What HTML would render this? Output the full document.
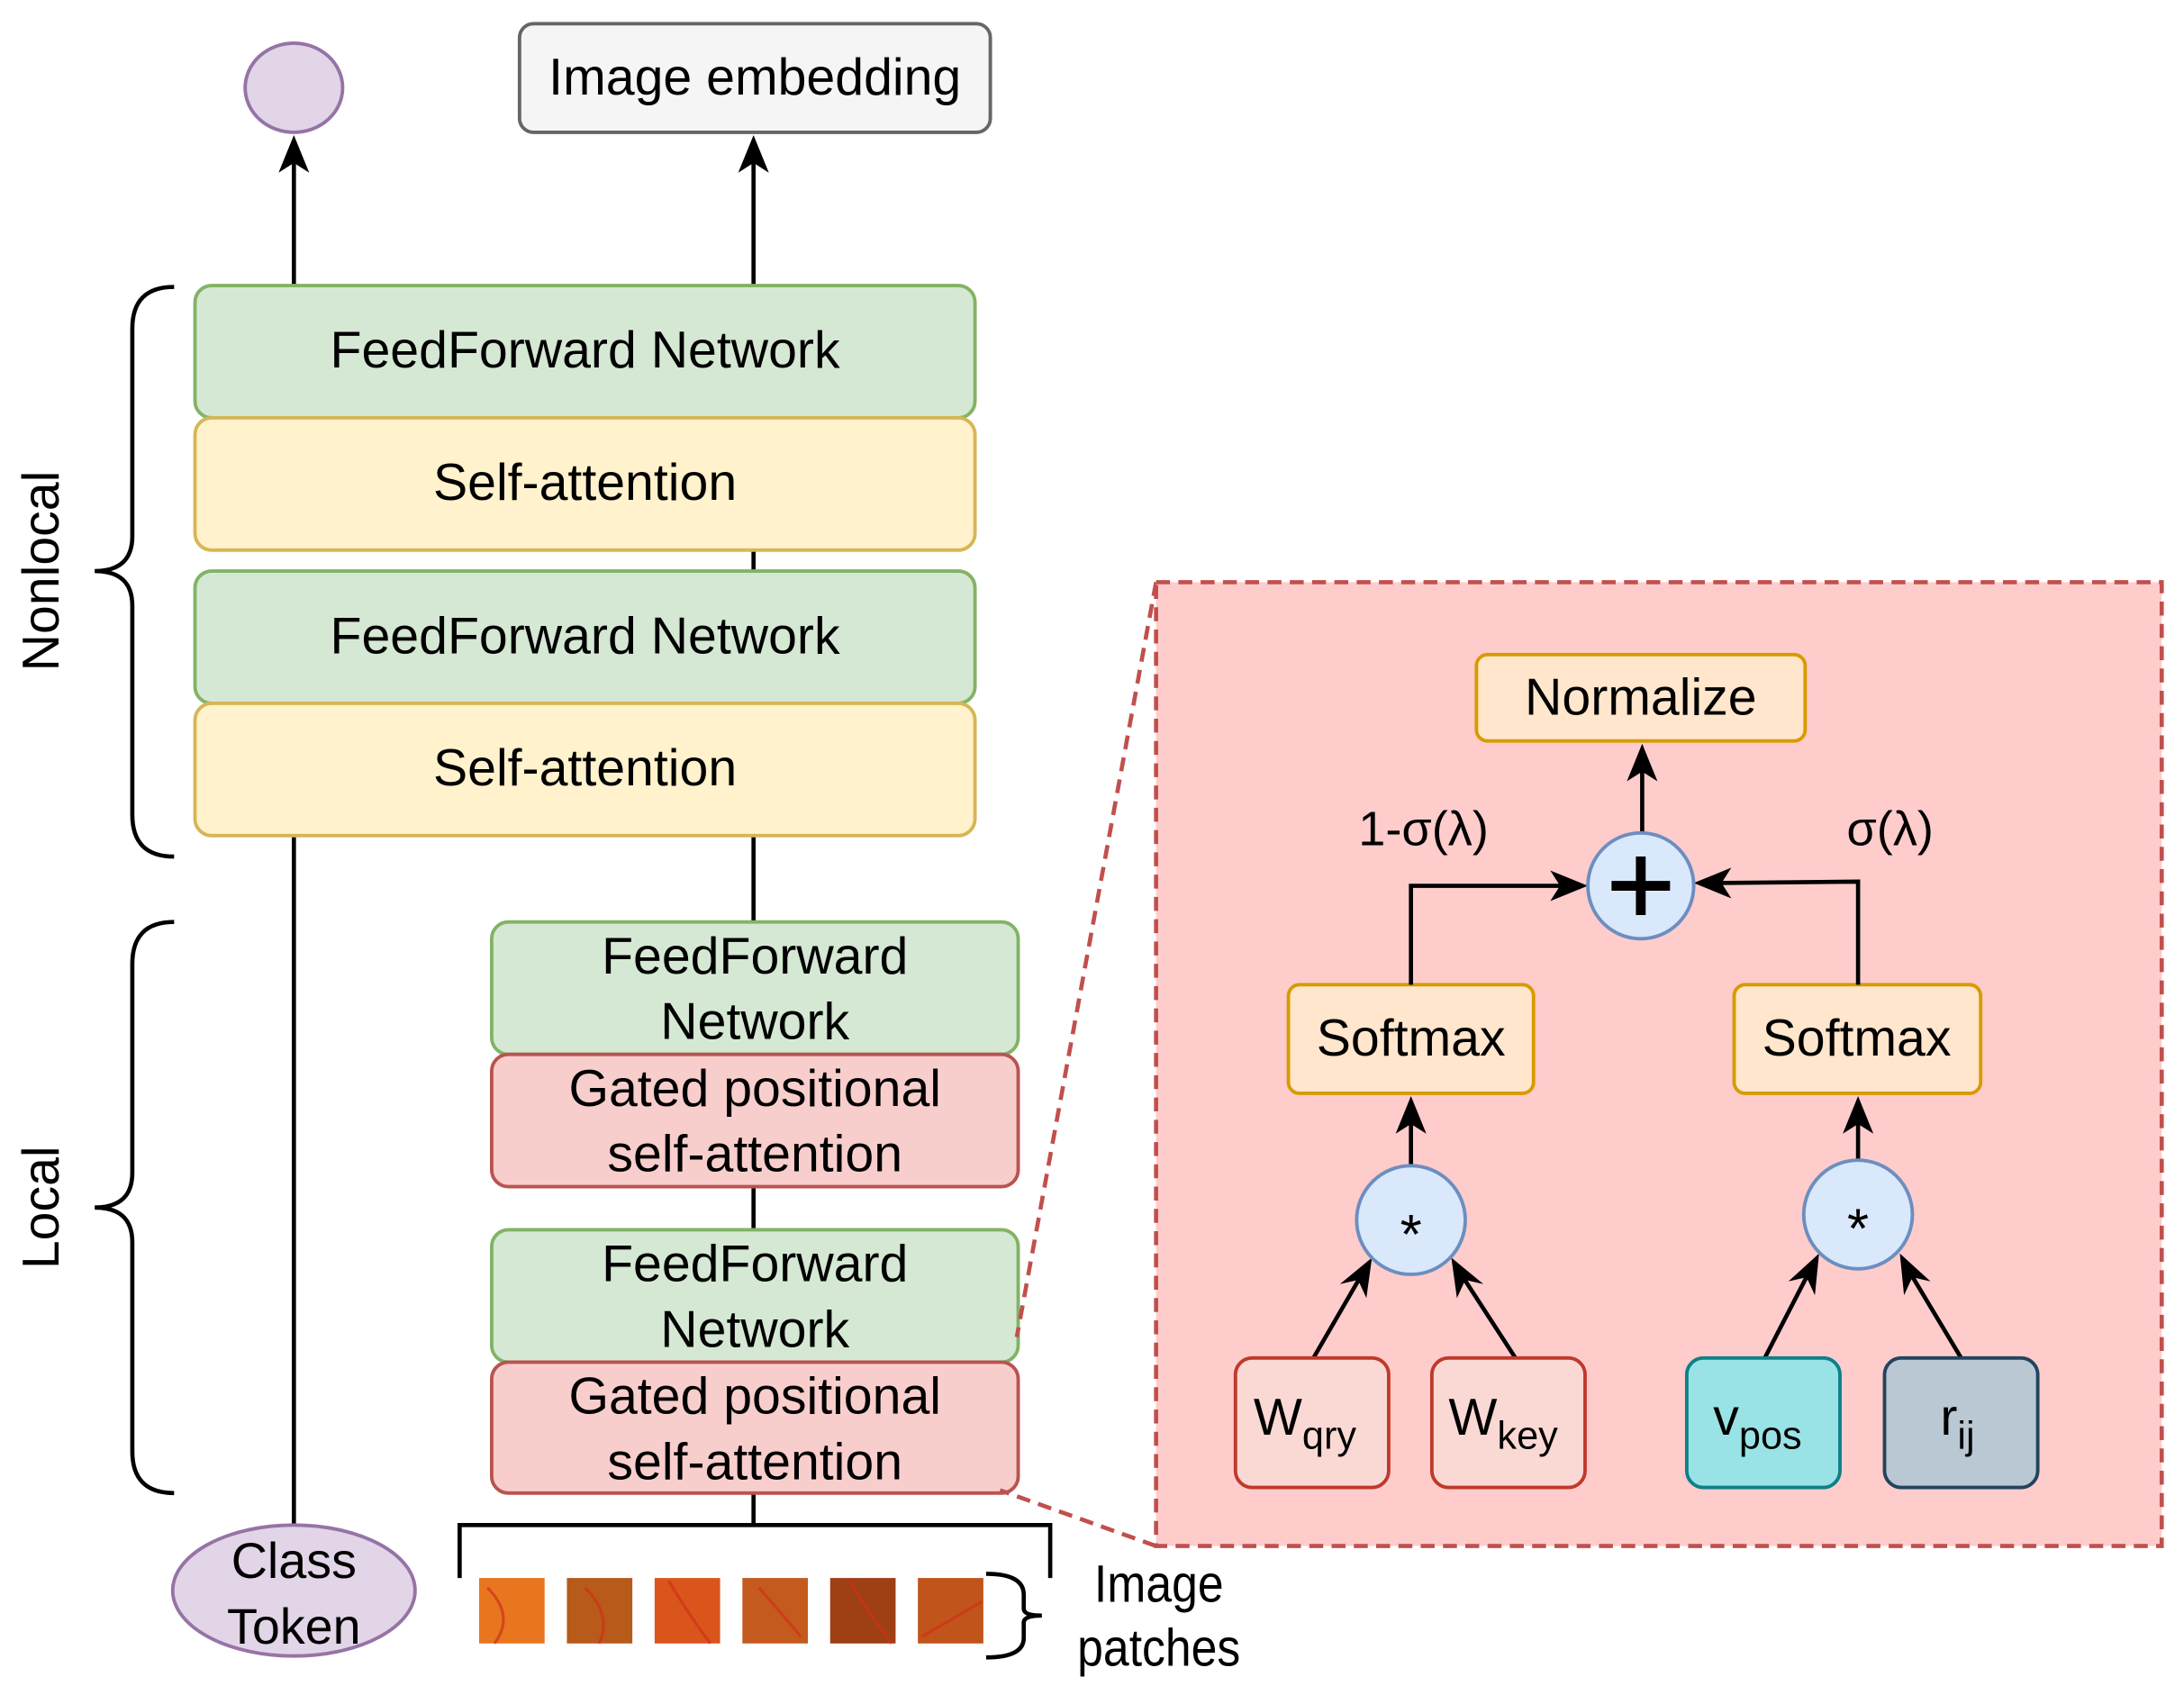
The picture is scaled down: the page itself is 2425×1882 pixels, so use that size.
<!DOCTYPE html>
<html><head><meta charset="utf-8"><style>
html,body{margin:0;padding:0;background:#fff;}
svg{display:block;}
text{font-family:"Liberation Sans",Arial,sans-serif;fill:#000;}
</style></head><body>
<svg width="2425" height="1882" viewBox="0 0 1568 1217" preserveAspectRatio="none" xmlns="http://www.w3.org/2000/svg">
<g stroke="#000" stroke-width="3" fill="none">
<line x1="211" y1="205" x2="211" y2="110"/>
<line x1="541" y1="205" x2="541" y2="110"/>
<line x1="211" y1="600" x2="211" y2="1095"/>
<line x1="541" y1="395" x2="541" y2="410"/>
<line x1="541" y1="600" x2="541" y2="662"/>
<line x1="541" y1="852" x2="541" y2="883"/>
<line x1="541" y1="1072" x2="541" y2="1095"/>
<polyline points="330,1133 330,1095 754,1095 754,1133"/>
<path d="M125,206 Q95,206 95,236 L95,385 Q95,410 68,410 Q95,410 95,435 L95,585 Q95,615 125,615"/>
<path d="M125,662 Q95,662 95,692 L95,842 Q95,867 68,867 Q95,867 95,892 L95,1042 Q95,1072 125,1072"/>
<path d="M708,1130 Q735,1130 735,1145 L735,1155 Q735,1160 748,1160 Q735,1160 735,1165 L735,1176 Q735,1190 708,1190"/>
</g>
<g fill="#000">
<polygon points="211,97 200,124 211,117 222,124"/>
<polygon points="541,97 530,124 541,117 552,124"/>
</g>
<ellipse cx="211" cy="63" rx="35" ry="32" fill="#e1d5e7" stroke="#9673a6" stroke-width="2.5"/>
<rect x="373" y="17" width="338" height="78" rx="10" fill="#f5f5f5" stroke="#666" stroke-width="2.5"/>
<text x="542" y="68" font-size="37" text-anchor="middle" fill="#333">Image embedding</text>
<g stroke-width="2.5">
<rect x="140" y="205" width="560" height="95" rx="12" fill="#d5e8d4" stroke="#82b366"/>
<rect x="140" y="300" width="560" height="95" rx="12" fill="#fff2cc" stroke="#d6b656"/>
<rect x="140" y="410" width="560" height="95" rx="12" fill="#d5e8d4" stroke="#82b366"/>
<rect x="140" y="505" width="560" height="95" rx="12" fill="#fff2cc" stroke="#d6b656"/>
<rect x="353" y="662" width="378" height="95" rx="12" fill="#d5e8d4" stroke="#82b366"/>
<rect x="353" y="757" width="378" height="95" rx="12" fill="#f8cecc" stroke="#b85450"/>
<rect x="353" y="883" width="378" height="95" rx="12" fill="#d5e8d4" stroke="#82b366"/>
<rect x="353" y="978" width="378" height="94" rx="12" fill="#f8cecc" stroke="#b85450"/>
</g>
<g font-size="37" text-anchor="middle">
<text x="420" y="264">FeedForward Network</text>
<text x="420" y="359">Self-attention</text>
<text x="420" y="469">FeedForward Network</text>
<text x="420" y="564">Self-attention</text>
<text x="542" y="699">FeedForward</text>
<text x="542" y="746">Network</text>
<text x="542" y="794">Gated positional</text>
<text x="542" y="841">self-attention</text>
<text x="542" y="920">FeedForward</text>
<text x="542" y="967">Network</text>
<text x="542" y="1015">Gated positional</text>
<text x="542" y="1062">self-attention</text>
</g>
<text font-size="37" text-anchor="middle" transform="translate(42,410) rotate(-90)">Nonlocal</text>
<text font-size="37" text-anchor="middle" transform="translate(42,867) rotate(-90)">Local</text>
<ellipse cx="211" cy="1142" rx="87" ry="47" fill="#e1d5e7" stroke="#9673a6" stroke-width="2.5"/>
<text x="211" y="1133" font-size="36" text-anchor="middle">Class</text>
<text x="211" y="1180" font-size="36" text-anchor="middle">Token</text>
<rect x="344" y="1133" width="47" height="47" fill="#e8761e"/>
<rect x="407" y="1133" width="47" height="47" fill="#b85a1a"/>
<rect x="470" y="1133" width="47" height="47" fill="#d9551c"/>
<rect x="533" y="1133" width="47" height="47" fill="#c45a1d"/>
<rect x="596" y="1133" width="47" height="47" fill="#9e3f14"/>
<rect x="659" y="1133" width="47" height="47" fill="#c0541a"/>
<path d="M350,1140 Q370,1160 355,1180 M420,1140 Q440,1160 430,1180 M480,1135 Q495,1160 510,1180 M545,1140 L575,1175 M610,1135 Q625,1160 640,1180 M662,1175 L705,1150" stroke="#d0301a" stroke-width="2" fill="none" opacity="0.7"/>
<text font-size="38" text-anchor="middle" transform="translate(832,1150) scale(0.88,1)">Image</text>
<text font-size="38" text-anchor="middle" transform="translate(832,1196) scale(0.88,1)">patches</text>
<g stroke="#c0504d" stroke-width="3" stroke-dasharray="10,6" fill="none">
<line x1="830" y1="418" x2="730" y2="960"/>
<line x1="830" y1="1110" x2="718" y2="1070"/>
</g>
<rect x="830" y="418" width="722" height="692" fill="#ffcccc" stroke="#c0504d" stroke-width="3" stroke-dasharray="10,6"/>
<rect x="1060" y="470" width="236" height="62" rx="8" fill="#ffe6cc" stroke="#d79b00" stroke-width="2.5"/>
<text x="1178" y="513" font-size="37" text-anchor="middle">Normalize</text>
<rect x="925" y="707" width="176" height="78" rx="8" fill="#ffe6cc" stroke="#d79b00" stroke-width="2.5"/>
<rect x="1245" y="707" width="177" height="78" rx="8" fill="#ffe6cc" stroke="#d79b00" stroke-width="2.5"/>
<text x="1013" y="758" font-size="37" text-anchor="middle">Softmax</text>
<text x="1333" y="758" font-size="37" text-anchor="middle">Softmax</text>
<g stroke="#000" stroke-width="3" fill="none">
<line x1="1179" y1="598" x2="1179" y2="548"/>
<polyline points="1013,707 1013,636 1125,636"/>
<polyline points="1334,707 1334,633 1232,634"/>
<line x1="1013" y1="837" x2="1013" y2="800"/>
<line x1="1334" y1="833" x2="1334" y2="800"/>
<line x1="943" y1="975" x2="976" y2="918"/>
<line x1="1088" y1="975" x2="1051" y2="918"/>
<line x1="1267" y1="975" x2="1298" y2="915"/>
<line x1="1408" y1="975" x2="1372" y2="915"/>
</g>
<g fill="#000">
<polygon points="1179,534 1168,561 1179,554 1190,561"/>
<polygon points="1140,636 1113,625 1120,636 1113,647"/>
<polygon points="1216,634 1243,623 1236,634 1243,645"/>
<polygon points="1013,787 1002,814 1013,807 1024,814"/>
<polygon points="1334,787 1323,814 1334,807 1345,814"/>
<polygon points="985,903 962,922 975,919 981,932"/>
<polygon points="1042,903 1046,932 1052,919 1065,922"/>
<polygon points="1306,900 1284,920 1297,917 1303,930"/>
<polygon points="1364,900 1367,930 1373,917 1386,920"/>
</g>
<circle cx="1178" cy="636" r="38" fill="#dae8fc" stroke="#6c8ebf" stroke-width="2.5"/>
<path d="M1178,615 V657 M1157,636 H1199" stroke="#000" stroke-width="7"/>
<circle cx="1013" cy="876" r="39" fill="#dae8fc" stroke="#6c8ebf" stroke-width="2.5"/>
<circle cx="1334" cy="872" r="39" fill="#dae8fc" stroke="#6c8ebf" stroke-width="2.5"/>
<text x="1013" y="900" font-size="40" text-anchor="middle">*</text>
<text x="1334" y="896" font-size="40" text-anchor="middle">*</text>
<text x="1022" y="607" font-size="35" text-anchor="middle">1-σ(λ)</text>
<text x="1357" y="607" font-size="35" text-anchor="middle">σ(λ)</text>
<rect x="887" y="975" width="110" height="93" rx="12" fill="#fad9d5" stroke="#c0392b" stroke-width="2.5"/>
<rect x="1028" y="975" width="110" height="93" rx="12" fill="#fad9d5" stroke="#c0392b" stroke-width="2.5"/>
<rect x="1211" y="975" width="110" height="93" rx="12" fill="#99e3e6" stroke="#0e8088" stroke-width="2.5"/>
<rect x="1353" y="975" width="110" height="93" rx="12" fill="#bac8d3" stroke="#23445d" stroke-width="2.5"/>
<text x="900" y="1030" font-size="37">W<tspan font-size="28" dy="10">qry</tspan></text>
<text x="1040" y="1030" font-size="37">W<tspan font-size="28" dy="10">key</tspan></text>
<text x="1230" y="1030" font-size="37">v<tspan font-size="28" dy="10">pos</tspan></text>
<text x="1393" y="1030" font-size="37">r<tspan font-size="28" dy="10">ij</tspan></text>
</svg>
</body></html>
